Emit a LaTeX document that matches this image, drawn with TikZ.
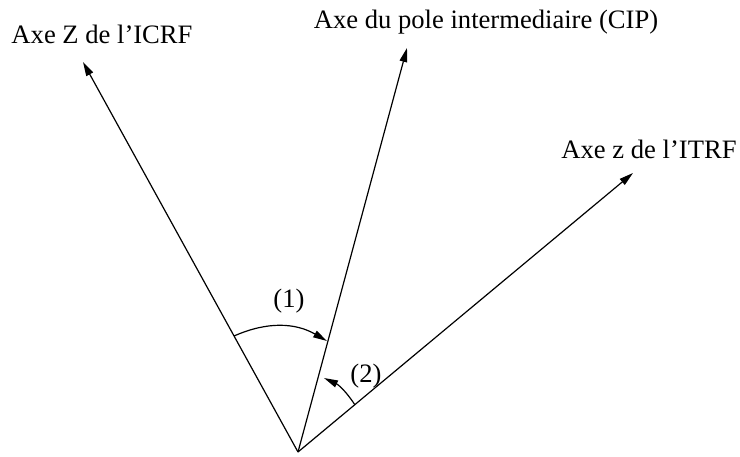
\documentclass[tikz,border=0pt]{standalone}
\usepackage{fontspec}
\setmainfont{Liberation Serif}
\usetikzlibrary{arrows.meta}
\begin{document}
\begin{tikzpicture}[x=0.5pt,y=-0.5pt,
  axis/.style={line width=0.6pt,-{Triangle[length=7pt,width=3.8pt]}},
  anglearc/.style={line width=0.6pt,-{Triangle[length=7pt,width=3.6pt]}},
  lbl/.style={inner sep=0pt,anchor=base,font=\fontsize{13.3}{16}\selectfont}]
\useasboundingbox (0,0) rectangle (740,456);
\coordinate (O) at (298,452);
\coordinate (icrf) at (83,62);
\coordinate (cip) at (407,48);
\coordinate (itrf) at (633,173);
\draw[axis] (O) -- (icrf);
\draw[axis] (O) -- (cip);
\draw[axis] (O) -- (itrf);
\node[lbl] (ticrf) at (102,43) {Axe Z de l’ICRF};
\node[lbl] (tcip) at (486,28) {Axe du pole intermediaire (CIP)};
\node[lbl] (titrf) at (649,158) {Axe z de l’ITRF};
\coordinate (a1s) at (234,336);
\coordinate (a1e) at (327,341);
\coordinate (a2s) at (355,405);
\coordinate (a2e) at (324,378);
\draw[anglearc] (a1s) to[bend left=27] (a1e);
\draw[anglearc] (a2s) to[bend right=16] (a2e);
\node[lbl] (n1) at (289,307) {(1)};
\node[lbl] (n2) at (366,382) {(2)};
\end{tikzpicture}
\end{document}
